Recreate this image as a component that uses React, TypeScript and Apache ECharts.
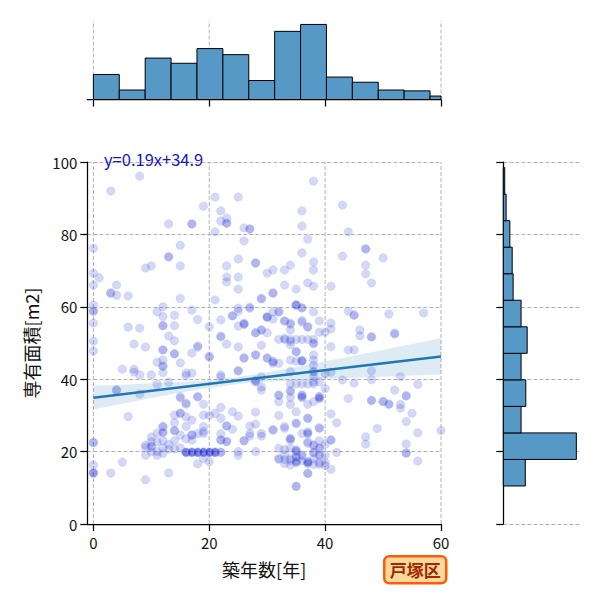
import React, { useEffect, useRef } from "react";
import * as echarts from "echarts";

const FONT = '"Noto Sans CJK JP", "Noto Sans", sans-serif';

// axis ranges and ticks
const X_MIN = -1.05;
const X_MAX = 60;
const Y_MIN = 0;
const Y_MAX = 100;
const X_TICKS = [0, 20, 40, 60];

// regression fit
const SLOPE = 0.19;
const INTERCEPT = 34.9;
const FIT_X_RANGE = [0, 60];

// 95% confidence band of the fit
const BAND_X = [0, 5, 10, 15, 20, 25, 30, 35, 40, 45, 50, 55, 60];
const BAND_LOW = [31.6, 33.2, 34.8, 36.3, 37.6, 38.7, 39.3, 39.7, 40.1, 40.4, 40.7, 41.0, 41.3];
const BAND_HIGH = [38.2, 38.5, 38.9, 39.2, 39.8, 40.6, 41.9, 43.4, 44.9, 46.5, 48.1, 49.7, 51.3];

// marginal histograms
const AGE_BIN_START = 0;
const AGE_BIN_WIDTH = 4.47;
const AGE_COUNTS = [29, 11, 48, 42, 59, 52, 22, 79, 87, 26, 20, 11, 10, 4];
const AREA_BIN_START = 10.5;
const AREA_BIN_WIDTH = 7.33;
const AREA_COUNTS = [47, 156, 38, 48, 38, 51, 38, 21, 19, 14, 6, 3];

// listings: [築年数, 専有面積 values]
const LISTINGS_0S: [number, number[]][] = [
  [0, [76.2, 69.3, 66, 60.5, 58.8, 58.8, 55.5, 50.5, 47.8, 22.5, 22.5, 16.3, 14.1, 14.1, 14.1]],
  [1, [68]],
  [3, [92, 63.8, 63.8, 14.1]],
  [4, [66, 63.2, 37, 37]],
  [5, [42.8, 17.1]],
  [6, [63, 54.4, 29.7]],
  [7, [49.7, 42.8, 42]],
  [8, [96.1, 54.1, 41.2, 35.9]],
  [9, [70.7, 48.9, 21.8, 21.2, 19, 12.2]],
];
const LISTINGS_10S: [number, number[]][] = [
  [10, [71.3, 41.2, 22.7, 21.4, 21.4, 20, 24]],
  [11, [58.6, 44.7, 38.6, 25.1, 20, 19, 22.7]],
  [12, [60, 57.3, 54.8, 54.8, 48.1, 48.1, 45.3, 43.6, 43.6, 41.8, 26.9, 26.9, 25.3, 25.3, 23, 21, 19.5]],
  [13, [82.9, 73.8, 73.8, 51.9, 39.2, 22, 20.7, 14.1]],
  [14, [57.7, 54.8, 50.6, 47, 47, 30.1, 28, 25.8, 25.8, 23, 20.7]],
  [15, [77, 71.3, 62.3, 44.5, 35.2, 34.8, 30.6, 30.6, 24.6, 21]],
  [16, [41.7, 41, 33.4, 33.1, 29.6, 27, 23.5, 19.8, 19.8, 19.8, 19.8]],
  [17, [82.9, 82.9, 59.1, 47.2, 41.7, 28.7, 24.6, 24.6, 23.2, 19.8, 19.8, 19.8, 19.8]],
  [18, [56.5, 49.2, 48.9, 35.2, 35.1, 25, 19.8, 19.8, 19.8, 19.8, 16.6]],
  [19, [87.8, 33.1, 30.1, 26.9, 25.6, 25, 19.8, 19.8, 19.8, 19.8, 18.1]],
];
const LISTINGS_20S: [number, number[]][] = [
  [20, [54.5, 46.4, 46.1, 30, 19.8, 19.8, 19.8, 19.8, 17.2]],
  [21, [90.3, 80.7, 61.9, 30.6, 19.8, 19.8, 19.8, 19.8]],
  [22, [86.5, 83.7, 56.4, 51.9, 51.7, 41.2, 40.7, 32.2, 29.2, 24.9, 23.2, 23.2, 19.8, 19.8]],
  [23, [84.5, 83.1, 83.1, 71.3, 68.2, 66.9, 49.7, 27.1, 27.1, 22.8, 22.8]],
  [24, [57.5, 57.5, 31, 26.2]],
  [25, [90.3, 73.2, 68.2, 64.9, 59.6, 58.8, 54.7, 48.9, 42.3, 42.3, 29.8, 20, 19]],
  [26, [81.8, 78.2, 55.5, 55.2, 55.2, 45.9, 45.8, 23, 23]],
  [27, [81.5, 81.5, 59.9, 59.6, 27.1, 25, 24.3]],
  [28, [72.1, 72.1, 52.8, 52.8, 46.7, 46.7, 39.6, 39.6, 39.2, 30.9, 27.6, 20]],
  [29, [62.3, 62.2, 53.6, 53.6, 49.4, 40.7, 37.9, 37, 25, 24.3]],
];
const LISTINGS_30S: [number, number[]][] = [
  [30, [69.3, 57.2, 57.2, 57.1, 52.8, 45.9, 45.8]],
  [31, [70.2, 63.8, 63.8, 58.6, 56.6, 44.9, 44.9, 44.4, 26, 26]],
  [32, [58.6, 58.6, 51, 44.4, 35.6, 35.6, 33.8, 30, 20.9, 18.1, 17.9]],
  [33, [70.2, 66, 56.1, 56.1, 51.3, 51, 26.9, 26.4, 20.6, 19.1, 17.8, 16.7]],
  [34, [71.5, 55.5, 55.2, 53.6, 51, 50.5, 49.5, 45.3, 42.1, 38.7, 37, 36.5, 35, 33, 23.6, 23.6, 23.2, 20.9, 18.1, 17.6, 16.3]],
  [35, [64.9, 60.5, 60.5, 60.5, 51, 47.6, 47.6, 45, 38.7, 31, 27.8, 27.8, 20.4, 20.4, 20, 18.6, 18.6, 17.3, 17.3, 16.9, 10.4, 10.4]],
  [36, [86.5, 82.3, 74.9, 59.7, 59.7, 56.2, 55.8, 51, 45.1, 45.1, 45, 38.7, 35.6, 35.6, 35, 35, 25, 19, 19, 17.5]],
  [37, [78.7, 66.6, 54.5, 54.4, 51, 38.7, 33.1, 29.2, 29.2, 25.5, 25, 25, 22.7, 22.3, 17.2, 17.2, 16.8, 16.8, 14, 14]],
  [38, [94.7, 72.4, 70.2, 65.7, 58.6, 51, 49.9, 49.9, 46.7, 45.3, 43.9, 42.1, 42.1, 40.7, 39.3, 38.7, 33.8, 21.8, 21.8, 19.8, 19.8, 18, 16.5]],
  [39, [56.1, 53, 39.3, 35.2, 35.2, 34.7, 34.7, 26.6, 26.4, 23, 21, 21, 19, 19, 17, 16.5]],
];
const LISTINGS_40S: [number, number[]][] = [
  [40, [53, 41.6, 37.4, 22, 19, 17, 16.2]],
  [41, [65.7, 55.5, 53.9, 49, 41.9, 30.4, 23.2, 23.2, 15.1]],
  [42, [28, 19.8]],
  [43, [88.1, 74, 39.8]],
  [44, [80.7, 58.8, 48.1, 34.7]],
  [45, [57.7, 57.7, 48.1, 38.9]],
  [46, [53.6, 52]],
  [47, [76, 76, 71.5, 69.1, 24.1, 22.1]],
  [48, [66.6, 51.7, 51.7, 42.3, 39.9, 34.2, 34.1]],
  [49, [26.4]],
];
const LISTINGS_50S: [number, number[]][] = [
  [50, [73.5, 33.9, 33.8]],
  [51, [58, 33.1, 33.1]],
  [52, [52.7, 52.5, 37]],
  [53, [40.7, 33, 32]],
  [54, [35.4, 35.4, 28.3, 22.1, 19.6, 19.6]],
  [55, [30.6]],
  [56, [38.6, 25.2, 17.4]],
  [57, [58.3]],
  [60, [25.8]],
];

const WARD = "戸塚区";

const points = [
  ...LISTINGS_0S,
  ...LISTINGS_10S,
  ...LISTINGS_20S,
  ...LISTINGS_30S,
  ...LISTINGS_40S,
  ...LISTINGS_50S,
].flatMap(([age, areas]) => areas.map((a) => [age, a]));

const ageBins = AGE_COUNTS.map((c, i) => [
  AGE_BIN_START + i * AGE_BIN_WIDTH,
  AGE_BIN_START + (i + 1) * AGE_BIN_WIDTH,
  c,
]);
const areaBins = AREA_COUNTS.map((c, i) => [
  AREA_BIN_START + i * AREA_BIN_WIDTH,
  AREA_BIN_START + (i + 1) * AREA_BIN_WIDTH,
  c,
]);

const BAR_FILL = "#5698c6";
const GRID_LINE = { color: "#b3b3b3", width: 1, type: [4, 2] as number[] };
const SPINE = { color: "#000", width: 1.25 };

const fitLine = FIT_X_RANGE.map((x) => [x, INTERCEPT + SLOPE * x]);

function vGridLines(xAxisIndex: number, yAxisIndex: number, yTop: number) {
  return X_TICKS.map((x) => ({
    type: "line",
    xAxisIndex,
    yAxisIndex,
    data: [
      [x, 0],
      [x, yTop],
    ],
    symbol: "none",
    silent: true,
    z: 0,
    lineStyle: GRID_LINE,
  }));
}

const AGE_HIST_MAX = Math.max(...AGE_COUNTS) * 1.05;
const AREA_HIST_MAX = Math.max(...AREA_COUNTS) * 1.05;

const option: any = {
  animation: false,
  backgroundColor: "#fff",
  textStyle: { fontFamily: FONT },
  grid: [
    { left: 87.3, top: 162, width: 353.7, height: 362, outerBoundsMode: "none" },
    { left: 87.3, top: 20.7, width: 353.7, height: 78.8, outerBoundsMode: "none" },
    { left: 503.3, top: 162, width: 76.7, height: 362, outerBoundsMode: "none" },
  ],
  xAxis: [
    {
      gridIndex: 0,
      type: "value",
      min: X_MIN,
      max: X_MAX,
      axisLine: { show: true, onZero: false, lineStyle: SPINE },
      axisTick: { show: true, length: 7, customValues: X_TICKS, lineStyle: SPINE },
      axisLabel: {
        customValues: X_TICKS,
        margin: 11,
        fontSize: 15,
        color: "#111",
        fontFamily: FONT,
        showMinLabel: true,
        showMaxLabel: true,
      },
      splitLine: { show: false },
      name: "築年数[年]",
      nameLocation: "middle",
      nameGap: 36,
      nameTextStyle: { fontSize: 18, color: "#111", fontFamily: FONT },
    },
    {
      gridIndex: 1,
      type: "value",
      min: X_MIN,
      max: X_MAX,
      axisLine: { show: true, onZero: false, lineStyle: SPINE },
      axisTick: { show: true, length: 7, customValues: X_TICKS, lineStyle: SPINE },
      axisLabel: { show: false },
      splitLine: { show: false },
    },
    {
      gridIndex: 2,
      type: "value",
      min: 0,
      max: AREA_HIST_MAX,
      show: false,
    },
  ],
  yAxis: [
    {
      gridIndex: 0,
      type: "value",
      min: Y_MIN,
      max: Y_MAX,
      interval: 20,
      axisLine: { show: true, onZero: false, lineStyle: SPINE },
      axisTick: { show: true, length: 7, lineStyle: SPINE },
      axisLabel: { margin: 10, fontSize: 15, color: "#111", fontFamily: FONT },
      splitLine: { show: true, lineStyle: GRID_LINE },
      name: "専有面積[m2]",
      nameLocation: "middle",
      nameGap: 47,
      nameTextStyle: { fontSize: 18, color: "#111", fontFamily: FONT },
    },
    {
      gridIndex: 1,
      type: "value",
      min: 0,
      max: AGE_HIST_MAX,
      show: false,
    },
    {
      gridIndex: 2,
      type: "value",
      min: Y_MIN,
      max: Y_MAX,
      interval: 20,
      axisLine: { show: true, onZero: false, lineStyle: SPINE },
      axisTick: { show: true, length: 7, lineStyle: SPINE },
      axisLabel: { show: false },
      splitLine: { show: true, lineStyle: GRID_LINE },
    },
  ],
  series: [
    ...vGridLines(0, 0, Y_MAX),
    ...vGridLines(1, 1, AGE_HIST_MAX),
    {
      type: "scatter",
      xAxisIndex: 0,
      yAxisIndex: 0,
      data: points,
      symbolSize: 8.5,
      z: 2,
      itemStyle: {
        color: "rgba(0,0,205,0.2)",
        borderColor: "rgba(140,185,230,0.3)",
        borderWidth: 1,
      },
    },
    {
      type: "custom",
      xAxisIndex: 0,
      yAxisIndex: 0,
      z: 3,
      silent: true,
      data: [[0, BAND_LOW[0]]],
      renderItem: (params: any, api: any) => {
        const upper = BAND_X.map((x, i) => api.coord([x, BAND_HIGH[i]]));
        const lower = BAND_X.map((x, i) => api.coord([x, BAND_LOW[i]])).reverse();
        return {
          type: "polygon",
          shape: { points: [...upper, ...lower] },
          style: { fill: "rgba(31,119,180,0.15)", stroke: "none" },
        };
      },
    },
    {
      type: "line",
      xAxisIndex: 0,
      yAxisIndex: 0,
      data: fitLine,
      symbol: "none",
      z: 4,
      silent: true,
      lineStyle: { color: "#1f77b4", width: 2.5 },
    },
    {
      type: "custom",
      xAxisIndex: 1,
      yAxisIndex: 1,
      z: 2,
      data: ageBins,
      encode: { x: [0, 1], y: 2 },
      renderItem: (params: any, api: any) => {
        const p0 = api.coord([api.value(0), 0]);
        const p1 = api.coord([api.value(1), api.value(2)]);
        const rect = echarts.graphic.clipRectByRect(
          { x: p0[0], y: p1[1], width: p1[0] - p0[0], height: p0[1] - p1[1] },
          params.coordSys
        );
        if (!rect) return null;
        return {
          type: "rect",
          shape: rect,
          style: { fill: BAR_FILL, stroke: "#000", lineWidth: 1 },
        };
      },
    },
    {
      type: "custom",
      xAxisIndex: 2,
      yAxisIndex: 2,
      z: 2,
      data: areaBins,
      encode: { x: 2, y: [0, 1] },
      renderItem: (params: any, api: any) => {
        const p0 = api.coord([0, api.value(0)]);
        const p1 = api.coord([api.value(2), api.value(1)]);
        return {
          type: "rect",
          shape: { x: p0[0], y: p1[1], width: p1[0] - p0[0], height: p0[1] - p1[1] },
          style: { fill: BAR_FILL, stroke: "#000", lineWidth: 1 },
        };
      },
    },
  ],
  graphic: [
    {
      type: "text",
      left: 104,
      top: 151,
      z: 10,
      style: {
        text: `y=${SLOPE}x+${INTERCEPT}`,
        fill: "#1515c8",
        font: `16.5px ${FONT}`,
      },
    },
    {
      type: "group",
      left: 383,
      top: 555,
      z: 10,
      children: [
        {
          type: "rect",
          shape: { x: 0, y: 0, width: 62, height: 27, r: 5 },
          style: { fill: "#ffd89b", stroke: "#ff5a0a", lineWidth: 2.5 },
        },
        {
          type: "text",
          x: 31,
          y: 13.5,
          style: {
            text: WARD,
            fill: "#a02800",
            font: `bold 17px ${FONT}`,
            align: "center",
            verticalAlign: "middle",
          },
        },
      ],
    },
  ],
};

export default function App() {
  const ref = useRef<HTMLDivElement>(null);
  useEffect(() => {
    if (!ref.current) return;
    const chart = echarts.init(ref.current, null, { renderer: "svg" });
    chart.setOption(option);
    return () => chart.dispose();
  }, []);
  return (
    <div
      ref={ref}
      style={{ position: "fixed", left: 0, top: 0, width: 600, height: 600, background: "#fff" }}
    />
  );
}
